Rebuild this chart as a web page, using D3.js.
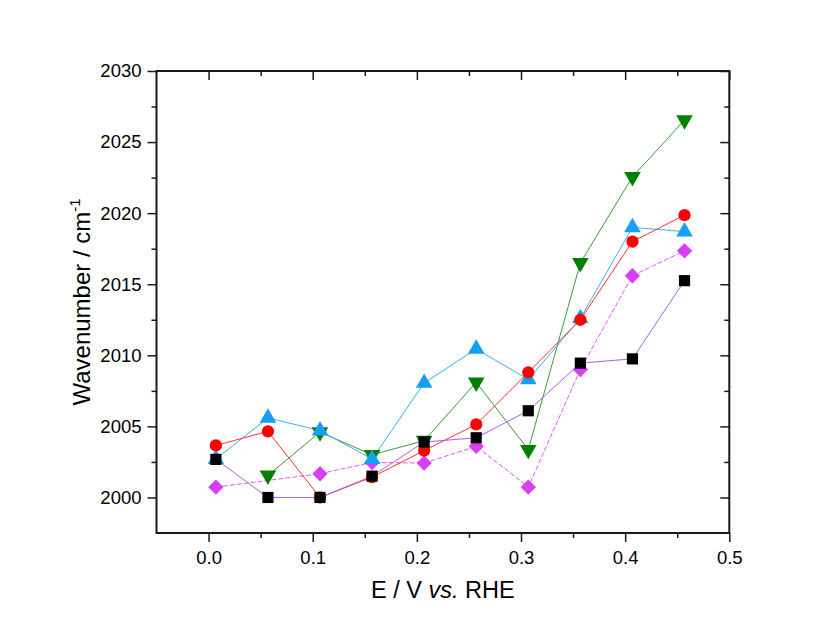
<!DOCTYPE html>
<html><head><meta charset="utf-8">
<script src="https://cdn.jsdelivr.net/npm/d3@7"></script>
<style>body{margin:0;background:#fff}</style>
</head><body>
<svg id="c" width="835" height="640"></svg>
<script>
const xVals = [0.007,0.057,0.107,0.157,0.207,0.257,0.307,0.357,0.407,0.457];
const blackVals   = [2002.68,2000.0,2000.0,2001.5,2003.9,2004.2,2006.1,2009.45,2009.75,2015.25];
const redVals     = [2003.66,2004.65,2000.0,2001.43,2003.3,2005.14,2008.8,2012.5,2018.0,2019.86];
const blueVals    = [2002.7,2005.6,2004.7,2002.7,2008.05,2010.45,2008.3,2012.6,2019.0,2018.7];
const greenVals   = [null,2001.55,2004.6,2003.0,2004.0,2008.1,2003.36,2016.5,2022.55,2026.55];
const magentaVals = [2000.73,null,2001.67,2002.46,2002.42,2003.6,2000.73,2009.0,2015.6,2017.35];
const xTicks = [0.0,0.1,0.2,0.3,0.4,0.5];
const xMinor = [0.05,0.15,0.25,0.35,0.45];
const yTicks = [2000,2005,2010,2015,2020,2025,2030];
const yMinor = [2002.5,2007.5,2012.5,2017.5,2022.5,2027.5];

const series = [
  {vals: magentaVals, fill:"#d93df5", line:"#e05cf5", shape:"diamond", dash:"5,2"},
  {vals: greenVals,   fill:"#008000", line:"#3a9a3a", shape:"down", dash:null},
  {vals: blueVals,    fill:"#149ff2", line:"#3ab0f5", shape:"up", dash:null},
  {vals: redVals,     fill:"#ff0000", line:"#ff3030", shape:"circle", dash:null},
  {vals: blackVals,   fill:"#000000", line:"#a560f0", shape:"square", dash:null}
];

const svg = d3.select("#c");
const L=156.5, R=729.3, T=71, B=533;
const x = d3.scaleLinear().domain([-0.05,0.5]).range([L,R]);
const y = d3.scaleLinear().domain([1997.5,2030]).range([B,T]);
const font = "'Liberation Sans', Arial, sans-serif";

function styleAxis(g){ g.select(".domain").remove(); g.selectAll("line").attr("stroke","#1a1a1a").attr("stroke-width",1.5); g.selectAll("text").attr("font-family",font).attr("font-size",18.5).attr("fill","#000"); }
svg.append("g").attr("transform",`translate(0,${B})`).call(d3.axisBottom(x).tickValues(xTicks).tickSize(9).tickPadding(9).tickFormat(d3.format(".1f"))).call(styleAxis);
svg.append("g").attr("transform",`translate(0,${B})`).call(d3.axisBottom(x).tickValues(xMinor).tickSize(5).tickFormat("")).call(styleAxis);
svg.append("g").attr("transform",`translate(${L},0)`).call(d3.axisLeft(y).tickValues(yTicks).tickSize(9).tickPadding(6).tickFormat(d3.format("d"))).call(styleAxis);
svg.append("g").attr("transform",`translate(${L},0)`).call(d3.axisLeft(y).tickValues(yMinor).tickSize(5).tickFormat("")).call(styleAxis);
svg.append("g").attr("transform",`translate(0,${T})`).call(d3.axisBottom(x).tickValues(xTicks).tickSize(9).tickFormat("")).call(styleAxis);
svg.append("g").attr("transform",`translate(0,${T})`).call(d3.axisBottom(x).tickValues(xMinor).tickSize(5).tickFormat("")).call(styleAxis);
svg.append("g").attr("transform",`translate(${R},0)`).call(d3.axisLeft(y).tickValues(yTicks).tickSize(9).tickFormat("")).call(styleAxis);
svg.append("g").attr("transform",`translate(${R},0)`).call(d3.axisLeft(y).tickValues(yMinor).tickSize(5).tickFormat("")).call(styleAxis);
svg.append("rect").attr("x",L).attr("y",T).attr("width",R-L).attr("height",B-T).attr("fill","none").attr("stroke","#1a1a1a").attr("stroke-width",2);

const line = d3.line().x(d=>x(d[0])).y(d=>y(d[1]));
series.forEach(s=>{
  const pts = xVals.map((v,i)=>[v,s.vals[i]]).filter(d=>d[1]!=null);
  svg.append("path").datum(pts).attr("d",line).attr("fill","none").attr("stroke",s.line).attr("stroke-width",1).attr("stroke-dasharray",s.dash);
});
const sym = {
  diamond: d3.symbol().type(d3.symbolSquare).size(118),
  circle: d3.symbol().type(d3.symbolCircle).size(118),
  square: d3.symbol().type(d3.symbolSquare).size(125),
  up: d3.symbol().type(d3.symbolTriangle).size(120),
  down: d3.symbol().type(d3.symbolTriangle).size(120)};
series.forEach(s=>{
  xVals.forEach((v,i)=>{
    const val=s.vals[i]; if(val==null) return;
    const rot = s.shape==="diamond" ? 45 : s.shape==="down" ? 180 : 0;
    svg.append("path").attr("d", sym[s.shape]()).attr("fill",s.fill)
      .attr("transform",`translate(${x(v)},${y(val)}) rotate(${rot})`);
  });
});

svg.append("text").attr("x",(L+R)/2).attr("y",598).attr("text-anchor","middle").attr("font-family",font).attr("font-size",23.5)
  .call(t=>{t.append("tspan").text("E / V ");t.append("tspan").attr("font-style","italic").text("vs.");t.append("tspan").text(" RHE");});
svg.append("text").attr("transform",`translate(90,${(T+B)/2}) rotate(-90)`).attr("text-anchor","middle").attr("font-family",font).attr("font-size",24)
  .call(t=>{t.append("tspan").text("Wavenumber / cm");t.append("tspan").attr("font-size",15).attr("dy",-10).text("-1");});
</script>
</body></html>
